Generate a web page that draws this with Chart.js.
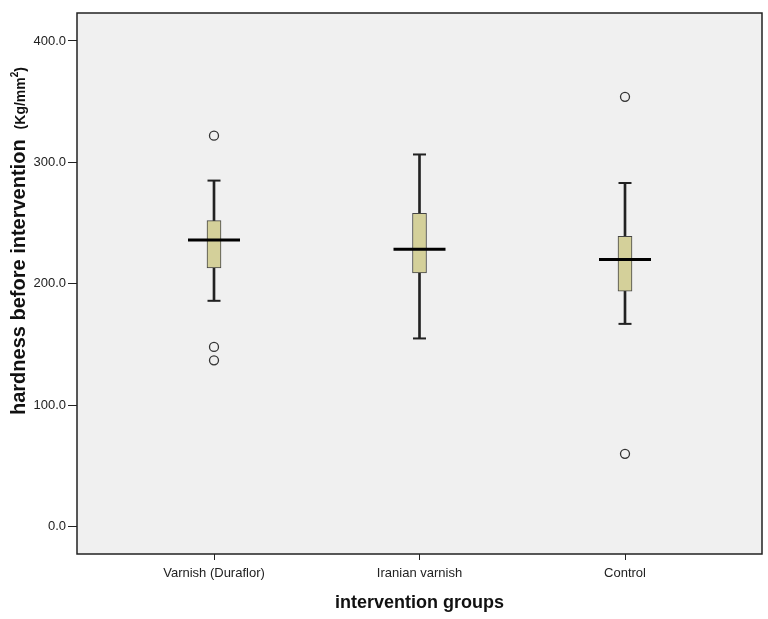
<!DOCTYPE html>
<html>
<head>
    <script src="https://cdn.jsdelivr.net/npm/chart.js"></script>
    <style>
        body {
            margin: 0;
            background: white;
        }
    </style>
</head>
<body>
    <canvas id="boxChart" width="768" height="619"></canvas>

    <script>
        let categories = ['Varnish (Duraflor)', 'Iranian varnish', 'Control'];
        let lowerWhisker = [186, 155, 167];
        let q1 = [213, 209, 194];
        let median = [236, 228.5, 220];
        let q3 = [252, 258, 239];
        let upperWhisker = [285, 306.5, 283];
        let outliers = [[322, 148, 137], [], [354, 60]];
        let yTicks = [0, 100, 200, 300, 400];

        let font = "'Liberation Sans', Arial, sans-serif";

        // background + frame + y title (two fonts, so drawn by hand)
        let framePlugin = {
            id: 'frame',
            beforeDraw(chart) {
                let a = chart.chartArea;
                let ctx = chart.ctx;
                ctx.save();
                ctx.fillStyle = '#f0f0f0';
                ctx.fillRect(a.left, a.top, a.right - a.left, a.bottom - a.top);
                ctx.restore();
            },
            afterDraw(chart) {
                let a = chart.chartArea;
                let ctx = chart.ctx;
                ctx.save();
                ctx.strokeStyle = '#222';
                ctx.lineWidth = 1.5;
                ctx.strokeRect(a.left, a.top, a.right - a.left, a.bottom - a.top);

                ctx.translate(25, 415);
                ctx.rotate(-Math.PI / 2);
                ctx.fillStyle = '#111';
                ctx.textBaseline = 'alphabetic';
                ctx.textAlign = 'left';
                ctx.font = 'bold 20px ' + font;
                let main = 'hardness before intervention';
                ctx.fillText(main, 0, 0);
                let x = ctx.measureText(main).width + 10;
                ctx.font = 'bold 14px ' + font;
                ctx.fillText('(Kg/mm', x, 0);
                x += ctx.measureText('(Kg/mm').width;
                ctx.font = 'bold 10px ' + font;
                ctx.fillText('2', x, -7);
                x += ctx.measureText('2').width;
                ctx.font = 'bold 14px ' + font;
                ctx.fillText(')', x, 0);
                ctx.restore();
            }
        };

        let boxes = categories.map((c, i) => ({ x: i + 1, y: [q1[i], q3[i]] }));
        let whiskers = categories.map((c, i) => ({ x: i + 1, y: [lowerWhisker[i], upperWhisker[i]] }));
        let medians = categories.map((c, i) => ({ x: i + 1, y: median[i] }));
        let caps = [];
        categories.forEach((c, i) => {
            caps.push({ x: i + 1, y: lowerWhisker[i] });
            caps.push({ x: i + 1, y: upperWhisker[i] });
        });
        let outPoints = [];
        outliers.forEach((list, i) => {
            list.forEach(v => outPoints.push({ x: i + 1, y: v }));
        });

        let ctx = document.getElementById('boxChart').getContext('2d');

        let chart = new Chart(ctx, {
            type: 'bar',
            data: {
                datasets: [
                    {
                        type: 'scatter', data: medians, order: 0,
                        pointStyle: 'line', pointRadius: 26, pointBorderWidth: 3,
                        borderColor: '#000', backgroundColor: '#000'
                    },
                    {
                        type: 'scatter', data: caps, order: 1,
                        pointStyle: 'line', pointRadius: 6.5, pointBorderWidth: 2,
                        borderColor: '#222', backgroundColor: '#222'
                    },
                    {
                        type: 'scatter', data: outPoints, order: 1,
                        pointStyle: 'circle', pointRadius: 4.5, pointBorderWidth: 1.3,
                        borderColor: '#333', backgroundColor: 'rgba(0,0,0,0)'
                    },
                    {
                        type: 'bar', data: boxes, order: 2, grouped: false,
                        barThickness: 14, borderSkipped: false,
                        backgroundColor: '#d4d09a', borderColor: '#444', borderWidth: 1
                    },
                    {
                        type: 'bar', data: whiskers, order: 3, grouped: false,
                        barThickness: 2, borderSkipped: false,
                        backgroundColor: '#222', borderWidth: 0
                    }
                ]
            },
            options: {
                responsive: false,
                animation: false,
                layout: { autoPadding: false, padding: { top: 13, right: 6, left: 0, bottom: 0 } },
                plugins: {
                    legend: { display: false },
                    tooltip: { enabled: false }
                },
                scales: {
                    x: {
                        type: 'linear',
                        min: 1 / 3,
                        max: 11 / 3,
                        offset: false,
                        afterBuildTicks: s => { s.ticks = categories.map((c, i) => ({ value: i + 1 })); },
                        afterFit: s => { s.height = 65; s.paddingLeft = 0; s.paddingRight = 0; },
                        grid: { offset: false, drawOnChartArea: false, drawTicks: true, tickLength: 6, color: '#222' },
                        border: { display: false },
                        ticks: {
                            padding: 6,
                            color: '#222',
                            font: { family: font, size: 13 },
                            callback: v => categories[v - 1]
                        },
                        title: {
                            display: true,
                            text: 'intervention groups',
                            color: '#111',
                            font: { family: font, size: 18, weight: 'bold' },
                            padding: { top: 0, bottom: 5 }
                        }
                    },
                    y: {
                        type: 'linear',
                        min: -22.5,
                        max: 423,
                        afterBuildTicks: s => { s.ticks = yTicks.map(v => ({ value: v })); },
                        afterFit: s => { s.width = 77; s.paddingTop = 0; s.paddingBottom = 0; },
                        grid: { drawOnChartArea: false, drawTicks: true, tickLength: 9, color: '#222' },
                        border: { display: false },
                        ticks: {
                            padding: 2,
                            color: '#222',
                            font: { family: font, size: 13 },
                            callback: v => v.toFixed(1)
                        }
                    }
                }
            },
            plugins: [framePlugin]
        });
    </script>
</body>
</html>
